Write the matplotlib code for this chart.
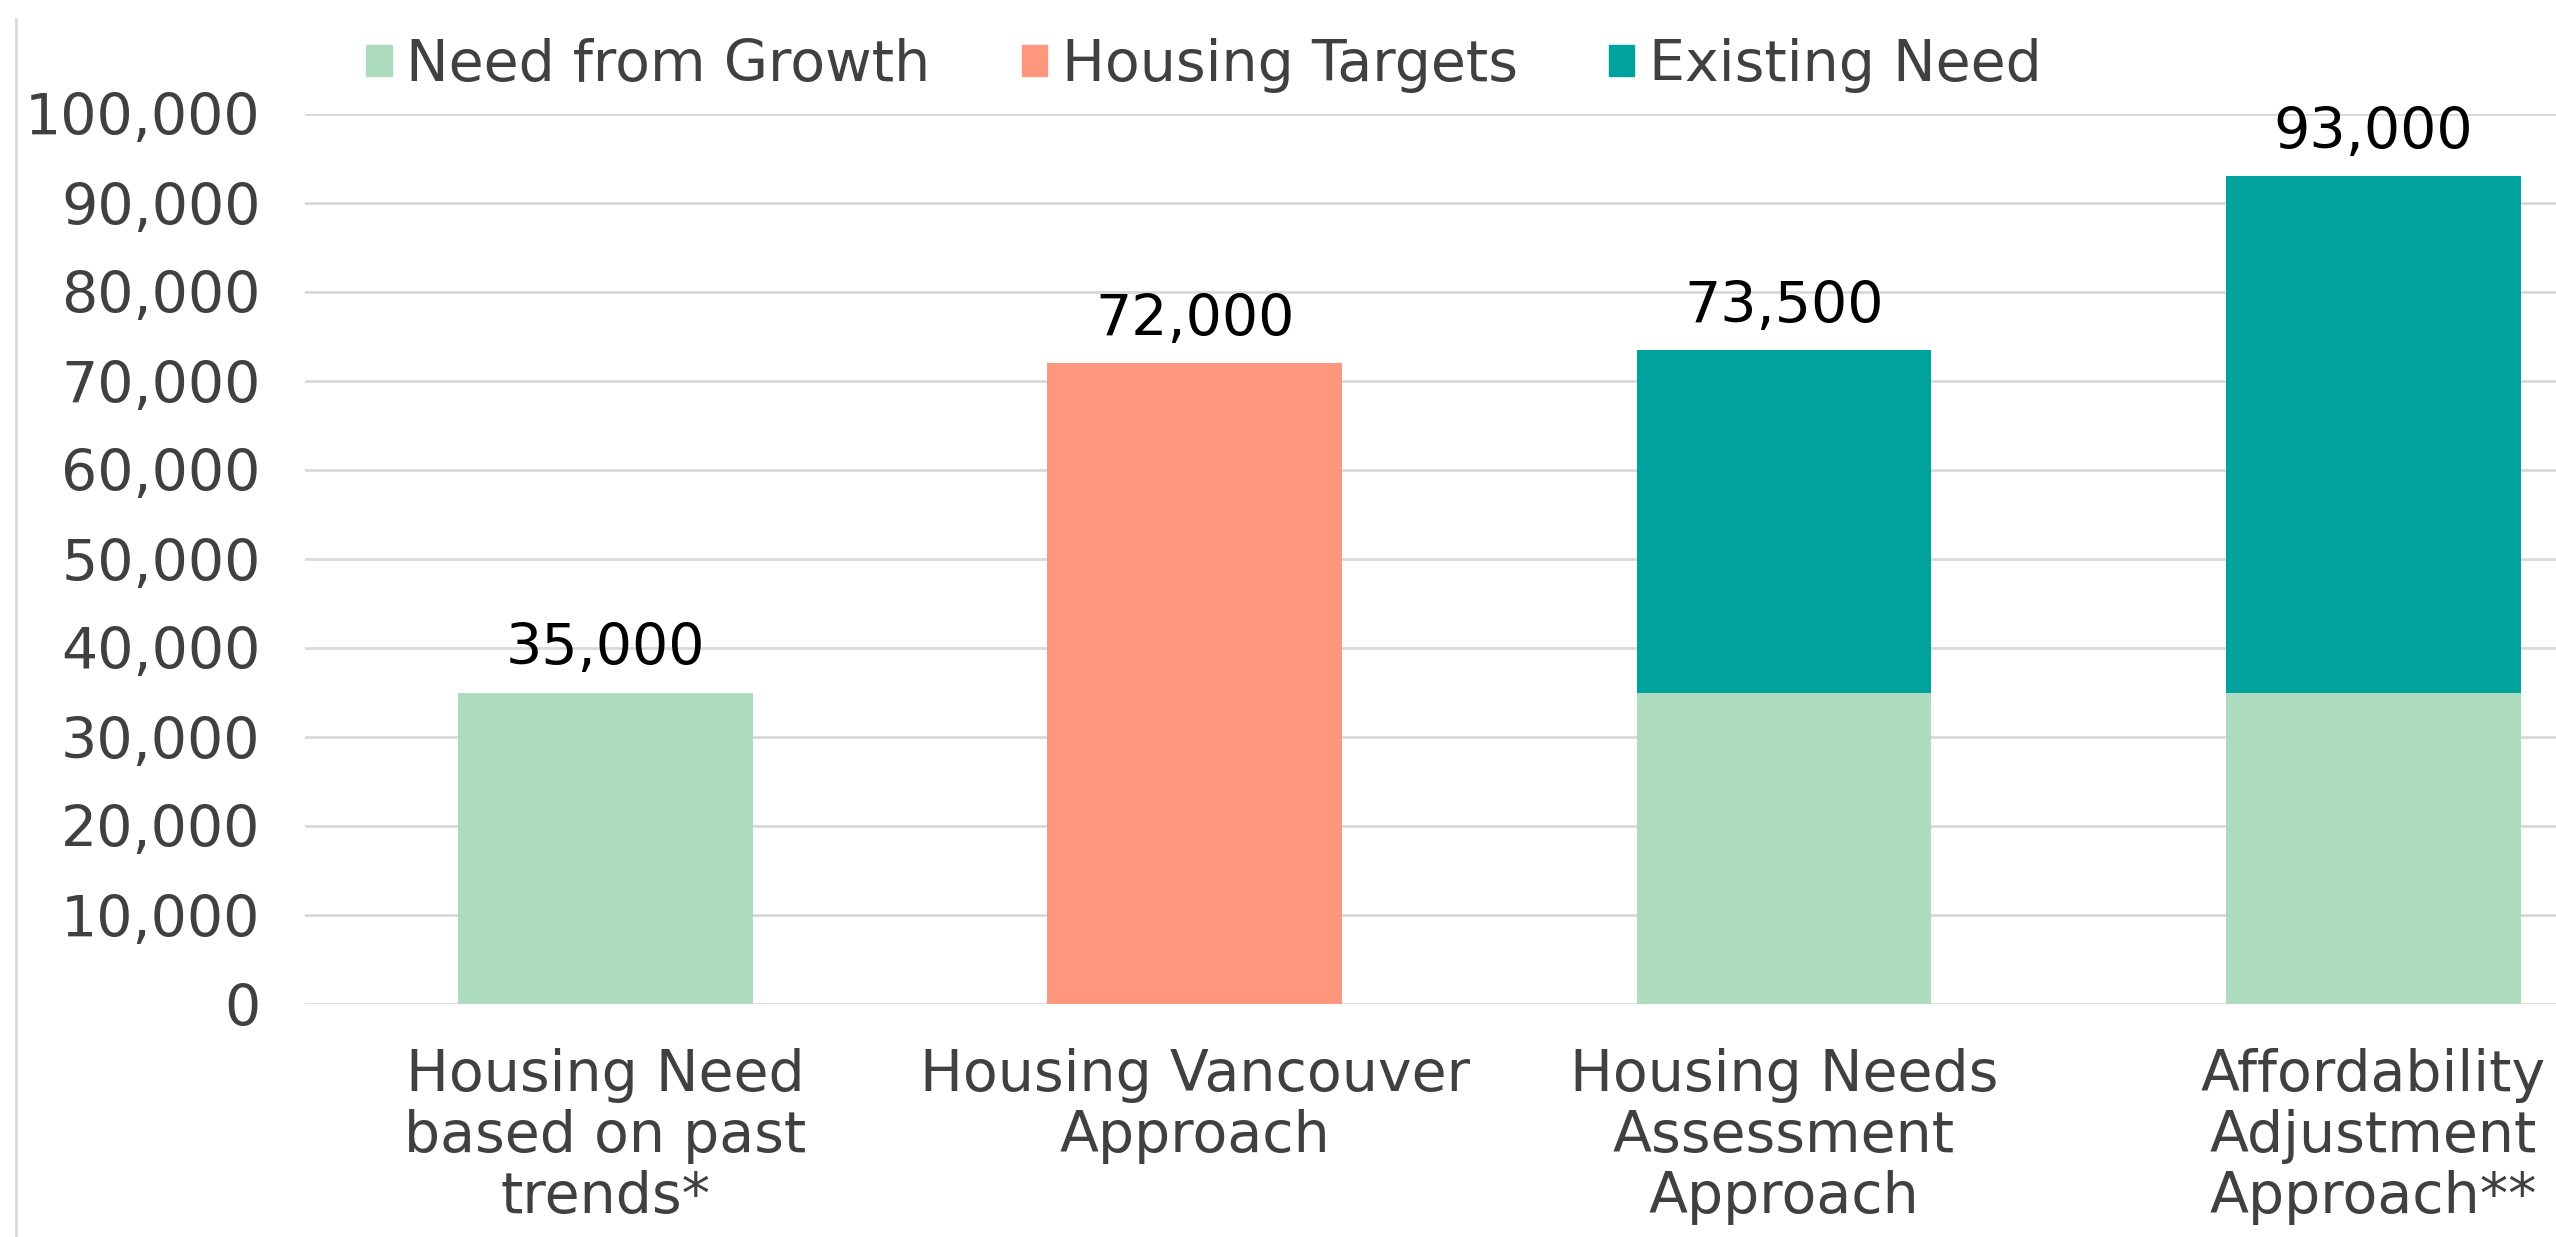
import matplotlib.pyplot as plt
import numpy as np
from matplotlib.lines import Line2D
from matplotlib.patches import Patch
from matplotlib.ticker import FuncFormatter

# Dane
categories = ['Housing Need\nbased on past\ntrends*',
              'Housing Vancouver\nApproach',
              'Housing Needs\nAssessment\nApproach',
              'Affordability\nAdjustment\nApproach**']
need_growth = [35000, 0, 35000, 35000]
housing_targets = [0, 72000, 0, 0]
existing_need = [0, 0, 38500, 58000]
totals = [35000, 72000, 73500, 93000]
series_names = ['Need from Growth', 'Housing Targets', 'Existing Need']
colors = ['#ADDBBD', '#FF967E', '#00A29D']

plt.rcParams['font.family'] = ['DejaVu Sans']
txt = '#404040'
fs = 41

fig = plt.figure(figsize=(25.56, 12.37), dpi=100)
ax = fig.add_axes([305 / 2556, 1 - 1004 / 1237, 1 - 305 / 2556, (1004 - 114) / 1237])

x = np.arange(len(categories))
w = 0.5
g = np.array(need_growth)
t = np.array(housing_targets)
e = np.array(existing_need)
ax.bar(x, g, w, color=colors[0], zorder=2)
ax.bar(x, t, w, bottom=g, color=colors[1], zorder=2)
ax.bar(x, e, w, bottom=g + t, color=colors[2], zorder=2)

for i, tot in enumerate(totals):
    ax.annotate(f'{tot:,}', (x[i], tot), xytext=(0, 11), textcoords='offset points',
                ha='center', va='bottom', fontsize=fs, color='black')

ax.set_ylim(0, 100000)
ax.set_xlim(-0.51, 3.31)
ax.set_yticks(np.arange(0, 100001, 10000))
ax.yaxis.set_major_formatter(FuncFormatter(lambda v, p: f'{int(v):,}'))
ax.grid(axis='y', color='#D9D9D9', linewidth=2, zorder=0)
ax.set_xticks(x)
ax.set_xticklabels(categories, fontsize=fs, color=txt, linespacing=1.14)
ax.tick_params(axis='y', length=0, pad=32, labelsize=fs, labelcolor=txt)
ax.tick_params(axis='x', length=0, pad=32)
for s in ax.spines.values():
    s.set_visible(False)

# Cienka linia po lewej stronie
fig.add_artist(Line2D([16 / 2556, 16 / 2556], [0, 1 - 19 / 1237], color='#D9D9D9', linewidth=2))

handles = [Patch(color=c) for c in colors]
fig.legend(handles, series_names, loc='center', bbox_to_anchor=(0.471, 0.947), ncol=3,
           frameon=False, fontsize=fs, labelcolor=txt, handlelength=0.45, handleheight=0.45,
           handletextpad=0.25, columnspacing=1.6)

fig.savefig('out.png', dpi=100)
